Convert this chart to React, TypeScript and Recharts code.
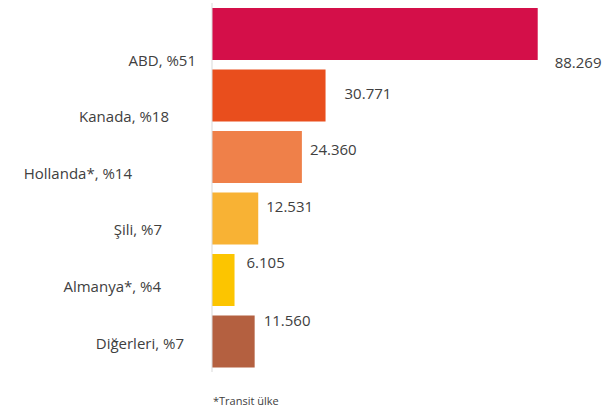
import React from 'react';
import { BarChart, Bar, XAxis, YAxis, Cell } from 'recharts';

// Export values by country (share of total in the label)
const countries = ['ABD, %51', 'Kanada, %18', 'Hollanda*, %14', 'Şili, %7', 'Almanya*, %4', 'Diğerleri, %7'];
const values = [88269, 30771, 24360, 12531, 6105, 11560];
const valueLabels = ['88.269', '30.771', '24.360', '12.531', '6.105', '11.560'];
const barColors = ['#D40F49', '#E94E1D', '#EF8049', '#F8B234', '#FCC500', '#B46040'];

// hand-placed label nudges, like in the original sheet
const catNudge = [
  { dx: -16, dy: 26 },
  { dx: -43, dy: 21 },
  { dx: -80, dy: 16 },
  { dx: -50, dy: 11 },
  { dx: -51, dy: 6 },
  { dx: -28, dy: 2 },
];
const valNudge = [
  { dx: 17, dy: 28 },
  { dx: 19, dy: -3 },
  { dx: 8, dy: -8 },
  { dx: 8, dy: -13 },
  { dx: 12, dy: -18 },
  { dx: 9, dy: -22 },
];

const data = countries.map((name, i) => ({ name, value: values[i], label: valueLabels[i] }));

const FONT = '"Open Sans", sans-serif';
const TEXT = '#404040';

const CategoryTick = (props: any) => {
  const { x, y, payload, index } = props;
  const n = catNudge[index] || { dx: 0, dy: 0 };
  return (
    <text x={x + n.dx} y={y + n.dy} textAnchor="end" dominantBaseline="central"
      fontFamily={FONT} fontSize={15} fill={TEXT}>
      {payload.value}
    </text>
  );
};

const ValueLabel = (props: any) => {
  const { x, y, width, height, index } = props;
  const n = valNudge[index] || { dx: 0, dy: 0 };
  return (
    <text x={x + width + n.dx} y={y + height / 2 + n.dy} textAnchor="start" dominantBaseline="central"
      fontFamily={FONT} fontSize={15} fill={TEXT}>
      {valueLabels[index]}
    </text>
  );
};

export default function App() {
  return (
    <div style={{ position: 'absolute', left: 0, top: 0, width: 605, height: 407, background: '#fff' }}>
      <BarChart
        width={605}
        height={407}
        data={data}
        layout="vertical"
        margin={{ top: 3, right: 24, bottom: 35, left: 0 }}
      >
        <XAxis type="number" domain={[0, 100000]} hide />
        <YAxis
          type="category"
          dataKey="name"
          width={212}
          axisLine={{ stroke: '#D9D9D9' }}
          tickLine={false}
          tickSize={0}
          tickMargin={0}
          interval={0}
          tick={<CategoryTick />}
        />
        <Bar dataKey="value" barSize={52} isAnimationActive={false} label={<ValueLabel />}>
          {data.map((d, i) => (
            <Cell key={d.name} fill={barColors[i]} />
          ))}
        </Bar>
      </BarChart>
      <div style={{ position: 'absolute', left: 213, top: 393, fontFamily: FONT, fontSize: 11, color: TEXT, lineHeight: '15px' }}>
        *Transit ülke
      </div>
    </div>
  );
}
